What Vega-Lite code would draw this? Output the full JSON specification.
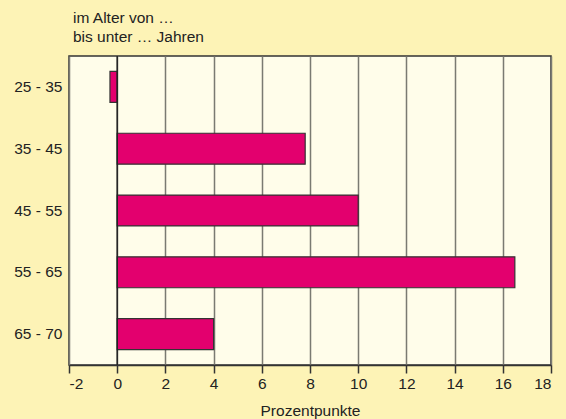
{
  "$schema": "https://vega.github.io/schema/vega-lite/v6.json",
  "autosize": "none",
  "padding": {"left": 69, "top": 56, "right": 15, "bottom": 54},
  "width": 482,
  "height": 309,
  "background": "#fdf3b6",
  "title": {
    "text": ["im Alter von …", "bis unter … Jahren"],
    "anchor": "start",
    "frame": "group",
    "font": "Liberation Sans",
    "fontSize": 15.5,
    "fontWeight": "normal",
    "color": "#222222",
    "lineHeight": 19,
    "offset": 10,
    "dx": 4
  },
  "config": {
    "view": {"fill": "#fffdea", "stroke": "#333333", "strokeWidth": 1.5},
    "axis": {"labelFont": "Liberation Sans", "titleFont": "Liberation Sans", "labelColor": "#222222", "titleColor": "#222222", "labelFontSize": 15.5, "titleFontSize": 15.5, "titleFontWeight": "normal"}
  },
  "data": {
    "values": [
      {"age": "25 - 35", "value": -0.3},
      {"age": "35 - 45", "value": 7.8},
      {"age": "45 - 55", "value": 10},
      {"age": "55 - 65", "value": 16.5},
      {"age": "65 - 70", "value": 4}
    ]
  },
  "layer": [
    {
      "mark": {"type": "bar", "color": "#e3006e", "stroke": "#333333", "strokeWidth": 1.2},
      "encoding": {
        "y": {
          "field": "age", "type": "nominal", "sort": null,
          "scale": {"paddingInner": 0.5, "paddingOuter": 0.25},
          "axis": {"title": null, "ticks": false, "domain": false, "labelPadding": 7, "grid": false}
        },
        "x": {
          "field": "value", "type": "quantitative",
          "scale": {"domain": [-2, 18], "nice": false},
          "axis": {
            "title": "Prozentpunkte", "values": [-2, 0, 2, 4, 6, 8, 10, 12, 14, 16, 18],
            "labelExpr": "replace(datum.label, '−', '-')",
            "grid": true, "gridColor": "#7a7a72", "gridWidth": 1.5, "gridOpacity": 1,
            "domainColor": "#333333", "domainWidth": 1.5,
            "tickColor": "#333333", "tickWidth": 1.5, "tickSize": 8,
            "labelPadding": 3, "titlePadding": 12
          }
        }
      }
    },
    {
      "mark": {"type": "rule", "color": "#222222", "strokeWidth": 1.5},
      "data": {"values": [{"zero": 0}]},
      "encoding": {"x": {"field": "zero", "type": "quantitative"}}
    }
  ]
}
